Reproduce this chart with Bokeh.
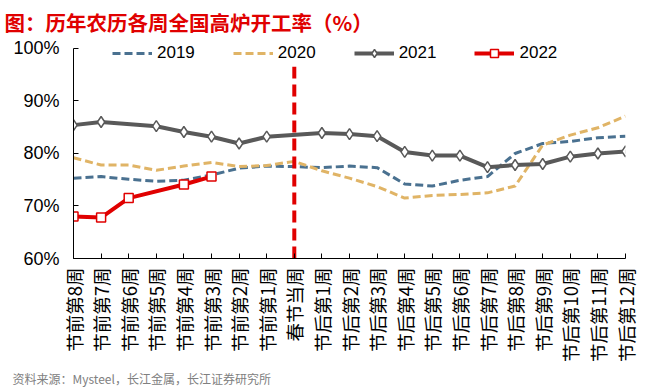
import math
from bokeh.plotting import figure
from bokeh.models import Range1d, FixedTicker, PrintfTickFormatter, Title, Legend, LegendItem
from bokeh.embed import file_html
from bokeh.resources import INLINE

categories = ["节前第8周", "节前第7周", "节前第6周", "节前第5周", "节前第4周", "节前第3周",
              "节前第2周", "节前第1周", "春节当周", "节后第1周", "节后第2周", "节后第3周",
              "节后第4周", "节后第5周", "节后第6周", "节后第7周", "节后第8周", "节后第9周",
              "节后第10周", "节后第11周", "节后第12周"]

y2019 = [75.3, 75.6, 75.1, 74.7, 74.9, 75.9, 77.2, 77.6, 77.5, 77.3, 77.6, 77.3,
         74.2, 73.8, 74.9, 75.6, 80.0, 81.9, 82.3, 83.0, 83.3]
y2020 = [79.2, 77.8, 77.8, 76.8, 77.6, 78.3, 77.5, 77.7, 78.5, 76.7, 75.3, 73.7,
         71.5, 72.0, 72.2, 72.5, 73.8, 81.6, 83.5, 84.9, 87.1]
y2021 = [85.4, 86.0, None, 85.2, 84.1, 83.2, 81.9, 83.2, None, 83.9, 83.7, 83.3,
         80.3, 79.6, 79.6, 77.4, 77.8, 78.0, 79.4, 80.0, 80.4]
y2022 = [68.0, 67.8, 71.5, None, 74.1, 75.6] + [None] * 15

y_ticks = [60, 70, 80, 90, 100]
spring_label = "春节当周"

title_text = "图：历年农历各周全国高炉开工率（%）"
source_text = "资料来源：Mysteel，长江金属，长江证券研究所"


def pts(vals):
    xs = [i for i, v in enumerate(vals) if v is not None]
    ys = [v for v in vals if v is not None]
    return xs, ys


CJK = "Noto Sans CJK SC"
LAT = "Liberation Sans"

p = figure(width=649, height=388, x_range=Range1d(0, len(categories) - 1),
           y_range=Range1d(y_ticks[0], 101.9),
           output_backend="svg", toolbar_location=None,
           min_border_left=73, min_border_right=24, min_border_top=38, min_border_bottom=129)
p.xgrid.visible = False
p.ygrid.visible = False
p.outline_line_color = None
p.background_fill_color = "white"
p.border_fill_color = "white"

# x axis
p.xaxis.ticker = FixedTicker(ticks=list(range(len(categories))))
p.xaxis.major_label_overrides = {i: c for i, c in enumerate(categories)}
p.xaxis.major_label_orientation = math.pi / 2
p.xaxis.minor_tick_line_color = None
p.xaxis.major_tick_in = 5
p.xaxis.major_tick_out = 0
p.xaxis.axis_line_color = "black"
p.xaxis.major_tick_line_color = "black"
p.xaxis.major_label_standoff = 9
p.xaxis.major_label_text_font = CJK
p.xaxis.major_label_text_font_size = "18.5px"
p.xaxis.major_label_text_color = "black"

# y axis
p.yaxis.ticker = FixedTicker(ticks=y_ticks)
p.yaxis.bounds = (y_ticks[0], y_ticks[-1])
p.yaxis.formatter = PrintfTickFormatter(format="%d%%")
p.yaxis.minor_tick_line_color = None
p.yaxis.major_tick_in = 5
p.yaxis.major_tick_out = 0
p.yaxis.axis_line_color = "black"
p.yaxis.major_tick_line_color = "black"
p.yaxis.major_label_standoff = 14
p.yaxis.major_label_text_font = LAT
p.yaxis.major_label_text_font_size = "18px"
p.yaxis.major_label_text_color = "black"

x19, v19 = pts(y2019)
x20, v20 = pts(y2020)
x21, v21 = pts(y2021)
x22, v22 = pts(y2022)

r19 = p.line(x19, v19, line_color="#4A7190", line_width=3, line_dash="8 4")
r20 = p.line(x20, v20, line_color="#E0B466", line_width=3, line_dash="8 4")
r21 = p.line(x21, v21, line_color="#595959", line_width=4)
r21m = p.scatter(x21, v21, marker="diamond", size=11,
                 fill_color="white", line_color="#595959", line_width=1.5)
r22 = p.line(x22, v22, line_color="#E00000", line_width=4)
r22m = p.scatter(x22, v22, marker="square", size=9,
                 fill_color="white", line_color="#E00000", line_width=1.5)

si = categories.index(spring_label)
p.segment(x0=[si], y0=[y_ticks[0]], x1=[si], y1=[96.5],
          line_color="#E00000", line_width=4, line_dash="12 6")

legend = Legend(items=[
    LegendItem(label="2019", renderers=[r19]),
    LegendItem(label="2020", renderers=[r20]),
    LegendItem(label="2021", renderers=[r21, r21m]),
    LegendItem(label="2022", renderers=[r22, r22m]),
], location=(39, 195), orientation="horizontal", border_line_color=None,
    background_fill_alpha=0, padding=0, margin=0, spacing=38,
    glyph_width=40, glyph_height=20, label_standoff=5, label_height=20,
    label_text_font=LAT, label_text_font_size="17px", label_text_color="black")
p.add_layout(legend)

p.add_layout(Title(text=title_text, align="left", offset=-69, standoff=3,
                   text_font=CJK, text_font_size="20.5px", text_font_style="bold",
                   text_color="#E00000"), "above")
p.add_layout(Title(text=source_text, align="left", offset=-61, standoff=4,
                   text_font=CJK, text_font_size="12px", text_font_style="normal",
                   text_color="#808080"), "below")

open("out.html", "w").write(file_html(p, INLINE))
